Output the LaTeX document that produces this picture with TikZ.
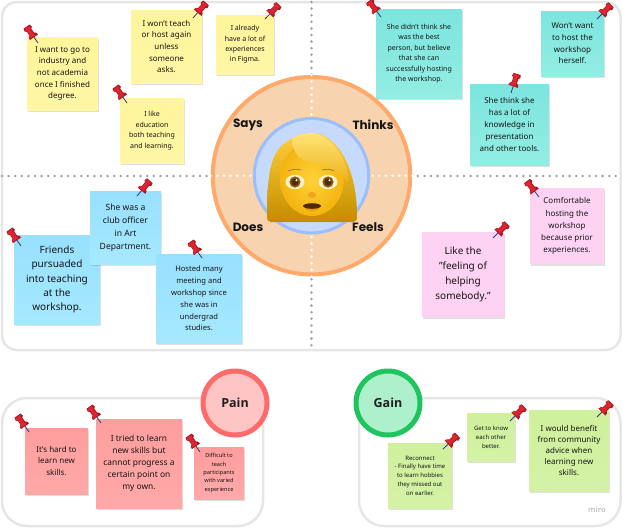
\documentclass[tikz,border=0pt]{standalone}
\usepackage{fontspec}
\setmainfont{Noto Sans}
\newfontfamily\labelfont{Poppins}
\newfontfamily\badgefont{Open Sans}
\usetikzlibrary{shadows}
\definecolor{framegray}{HTML}{E6E6E6}
\definecolor{dotgray}{HTML}{A3A1A8}
\definecolor{ringorange}{HTML}{FFA96B}
\definecolor{ringfill}{HTML}{F8D3AF}
\definecolor{coreblue}{HTML}{9ABFFB}
\definecolor{corefill}{HTML}{C6DAFD}
\definecolor{painred}{HTML}{FF6B6B}
\definecolor{painfill}{HTML}{FFC5C5}
\definecolor{gaingreen}{HTML}{1FC45F}
\definecolor{gainfill}{HTML}{AEF0CB}
\definecolor{pinred}{HTML}{DC2530}
\definecolor{pindark}{HTML}{A81822}
\definecolor{hairtop}{HTML}{FFCF3A}
\definecolor{hairmid}{HTML}{E9AC12}
\definecolor{hairlow}{HTML}{C48C00}
\definecolor{fringetop}{HTML}{FFE477}
\definecolor{fringelow}{HTML}{EDB018}
\definecolor{faceinner}{HTML}{FFD236}
\definecolor{faceouter}{HTML}{F4B410}
\definecolor{browndark}{HTML}{4E2C08}
\definecolor{irisbrown}{HTML}{8A5A14}
\definecolor{eyewhite}{HTML}{FFF2C8}
\definecolor{noseorange}{HTML}{F2A41E}
\definecolor{liporange}{HTML}{E8A010}
\definecolor{yellowtop}{HTML}{FFF59B}
\definecolor{yellowlow}{HTML}{FFF6A6}
\definecolor{tealtop}{HTML}{7CE5DE}
\definecolor{teallow}{HTML}{93EDE3}
\definecolor{bluetop}{HTML}{97E0FF}
\definecolor{bluelow}{HTML}{A6E9FF}
\definecolor{pinknote}{HTML}{FDD2F2}
\definecolor{redtop}{HTML}{FF9D9D}
\definecolor{redlow}{HTML}{FFA9A9}
\definecolor{greentop}{HTML}{CFF09C}
\definecolor{greenlow}{HTML}{D4F2A6}
\tikzset{
  pushpin/.pic={
    \draw[line width=0.8pt, black!45!blue!60!gray] (0,0) -- (0,-9);
    \fill[pindark] (-5,-7) -- (5,-7) -- (4.4,-9.5) -- (2.7,-11) -- (2.7,-15.5)
      -- (4.4,-17) -- (3.6,-20) -- (-3.6,-20) -- (-4.4,-17) -- (-2.7,-15.5)
      -- (-2.7,-11) -- (-4.4,-9.5) -- cycle;
    \fill[pinred] (-4.4,-8) -- (2.4,-8) -- (1.6,-11) -- (1.6,-16) -- (3,-19) -- (-3.2,-19)
      -- (-3.8,-17) -- (-2,-15.5) -- (-2,-11) -- (-3.8,-9.5) -- cycle;
  }
}
\begin{document}
\begin{tikzpicture}[
    x=1pt, y=-1pt,
    frame/.style={draw=framegray, line width=2.5pt},
    griddots/.style={dotgray, line width=2.8pt, line cap=round, dash pattern=on 0pt off 6.6pt},
    whitedots/.style={griddots, white},
    notebox/.style n args={4}{minimum width=#1pt, minimum height=#2pt, inner sep=0pt,
      align=center, text=black!92, font=\fontsize{#3}{#4}\selectfont,
      drop shadow={shadow xshift=0.6pt, shadow yshift=-2pt, opacity=0.12, fill=black}},
    yellownote/.style={top color=yellowtop, bottom color=yellowlow},
    tealnote/.style={top color=tealtop, bottom color=teallow},
    bluenote/.style={top color=bluetop, bottom color=bluelow},
    feelnote/.style={fill=pinknote},
    rednote/.style={top color=redtop, bottom color=redlow},
    greennote/.style={top color=greentop, bottom color=greenlow},
    quadrant/.style={font=\labelfont\bfseries\fontsize{12}{14}\selectfont, text=black!92},
    badge/.style={circle, minimum size=64pt, inner sep=0pt, line width=5pt, text=black!88,
      font=\badgefont\bfseries\fontsize{12.5}{14}\selectfont},
  ]
    \useasboundingbox (0,0) rectangle (623,528);

    % frames
    \draw[frame, rounded corners=15pt] (2,2) rectangle (620.5,350);
    \draw[frame, rounded corners=25pt] (2,398) rectangle (263,526);
    \draw[frame, rounded corners=25pt] (359,398) rectangle (620.5,526);

    % quadrant lines
    \draw[griddots] (311.5,2) -- (311.5,350);
    \draw[griddots] (2,176) -- (620,176);

    % circles
    \node[circle, draw=ringorange, fill=ringfill, line width=4pt, minimum size=197.5pt, inner sep=0pt]
      (ring) at (311.5,175.7) {};
    \node[circle, draw=coreblue, fill=corefill, line width=3pt, minimum size=114.5pt, inner sep=0pt]
      (core) at (311.5,175.7) {};
    \draw[whitedots] (ring.north) -- (core.north);
    \draw[whitedots] (ring.south) -- (core.south);
    \draw[whitedots] (ring.west) -- (core.west);
    \draw[whitedots] (ring.east) -- (core.east);

    % woman face
    \shade[top color=hairtop, middle color=hairmid, bottom color=hairlow]
      (271,222) .. controls (268,222) and (267,220) .. (267,216)
      .. controls (267,178) and (270,153) .. (285,143)
      .. controls (296,135) and (305,133) .. (312,133)
      .. controls (335,133) and (357,165) .. (357,216)
      .. controls (357,220) and (356,222) .. (353,222) -- cycle;
    \shade[inner color=faceinner, outer color=faceouter] (312,179) ellipse (32 and 37);
    \shade[top color=fringetop, bottom color=fringelow]
      (293,138) .. controls (291,141) and (292,145) .. (294,149)
      .. controls (296,155) and (300,160) .. (307,161)
      .. controls (325,164) and (340,170) .. (348,183)
      .. controls (349,170) and (343,156) .. (335,146)
      .. controls (328,138) and (318,133) .. (312,133)
      .. controls (305,133) and (298,135) .. (293,138) -- cycle;
    \draw[browndark!70, line width=0.6pt] (288,171) .. controls (292,169) and (297,169) .. (301,170);
    \draw[browndark!70, line width=0.6pt] (322,170) .. controls (326,169) and (331,169) .. (334,171);
    \foreach \ex in {295,328} {
      \fill[eyewhite] (\ex,182) ellipse (9.5 and 7.2);
      \fill[irisbrown] (\ex,182) circle (5.6);
      \fill[browndark] (\ex,182) circle (3.6);
      \fill[white] (\ex+1.5,180.3) circle (1.1);
    }
    \fill[noseorange] (312,195) ellipse (4.2 and 3);
    \fill[liporange] (312,208) ellipse (7 and 3);
    \fill[browndark] (312,206) ellipse (9 and 2.8);

    \node[quadrant] (says) at (248,125) {Says};
    \node[quadrant] (thinks) at (373,125) {Thinks};
    \node[quadrant] (does) at (248,227) {Does};
    \node[quadrant] (feels) at (368,227) {Feels};

    % says
    \node[notebox={71}{73}{8}{11.6}, yellownote] (want) at (62.5,73.5) {I want to go to\\industry and\\not academia\\once I finished\\degree.};
    \node[notebox={71}{73}{8}{11.6}, yellownote] (teach) at (166.5,46.5) {I won't teach\\or host again\\unless\\someone\\asks.};
    \node[notebox={58}{59}{7}{10.4}, yellownote] (figma) at (245,44.5) {I already\\have a lot of\\experiences\\in Figma.};
    \node[notebox={64}{65}{7}{10.6}, yellownote] (educ) at (152,130.5) {I like\\education\\both teaching\\and learning.};

    % thinks
    \node[notebox={86}{89}{7}{10.5}, tealnote] (best) at (419,53.5) {She didn't think she\\was the best\\person, but believe\\that she can\\successfully hosting\\the workshop.};
    \node[notebox={63}{65}{8}{11.6}, tealnote] (host) at (572.5,43.5) {Won't want\\to host the\\workshop\\herself.};
    \node[notebox={79}{81}{8}{12.1}, tealnote] (know) at (509.5,124.5) {She think she\\has a lot of\\knowledge in\\presentation\\and other tools.};

    % does
    \node[notebox={86}{89}{10}{14.3}, bluenote] (friends) at (57,279.5) {Friends\\pursuaded\\into teaching\\at the\\workshop.};
    \node[notebox={71}{73}{8.6}{13}, bluenote] (club) at (125.5,227.5) {She was a\\club officer\\in Art\\Department.};
    \node[notebox={86}{89}{7.6}{11.8}, bluenote] (hosted) at (199,298.5) {Hosted many\\meeting and\\workshop since\\she was in\\undergrad\\studies.};

    % feels
    \node[notebox={74}{76}{8}{12.1}, feelnote] (comfort) at (567,226) {Comfortable\\hosting the\\workshop\\because prior\\experiences.};
    \node[notebox={82}{85}{10}{15}, feelnote] (like) at (463,274.5) {Like the\\"feeling of\\helping\\somebody."};

    % pain
    \node[badge, draw=painred, fill=painfill] (pain) at (235,403) {Pain};
    \node[notebox={63}{66}{8}{11.6}, rednote] (hard) at (56.5,461) {It's hard to\\learn new\\skills.};
    \node[notebox={86}{89}{8.4}{12}, rednote] (tried) at (139,463.5) {I tried to learn\\new skills but\\cannot progress a\\certain point on\\my own.};
    \node[notebox={50}{52}{5.6}{8.4}, rednote] (varied) at (219,473) {Difficult to\\teach\\participants\\with varied\\experience};

    % gain
    \node[badge, draw=gaingreen, fill=gainfill] (gain) at (388,403) {Gain};
    \node[notebox={64}{65}{6}{8.8}, greennote] (reconnect) at (420,475.5) {Reconnect\\- Finally have time\\to learn hobbies\\they missed out\\on earlier.};
    \node[notebox={48}{48}{6}{8.8}, greennote] (better) at (491,437) {Get to know\\each other\\better.};
    \node[notebox={80}{81}{8}{11.1}, greennote] (benefit) at (569,450.5) {I would benefit\\from community\\advice when\\learning new\\skills.};

    \foreach \px/\py/\ang in {38/43/35, 193/18/-41, 265/19/-44, 127/103/35,
        381/17/37, 597/19/-45, 511/93/-18,
        21/246/35, 137/196/-40, 202/258/35,
        539/197/37, 493/238/-45,
        29/432/35, 101/423/35, 200/452/35,
        443/449/-47, 510/421/-45, 597/417/-45}
      \pic[rotate=\ang] at (\px,\py) {pushpin};

    \node[text=black!22, font=\badgefont\bfseries\fontsize{7.5}{9}\selectfont] (miro) at (597,510) {miro};
  \end{tikzpicture}
\end{document}
